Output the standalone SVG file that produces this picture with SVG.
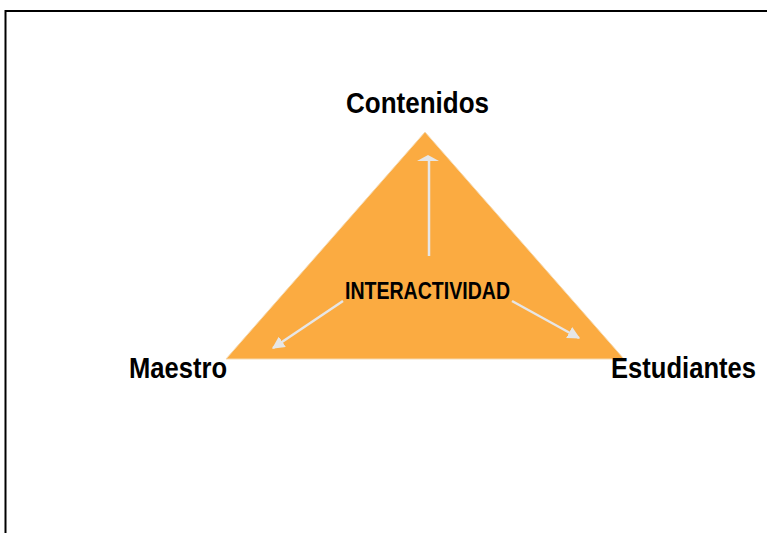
<svg xmlns="http://www.w3.org/2000/svg" width="767" height="533" viewBox="0 0 767 533">
<defs>
<style>
.lbl{font-family:"Liberation Sans Narrow","Liberation Sans",Arial,sans-serif;font-weight:bold;fill:#000}
.big{font-size:29px}
.conn{stroke:#e6e6e6;stroke-width:2.5;fill:none}
.head{fill:#e6e6e6}
</style>
<marker id="ah" viewBox="0 0 10 10" refX="9" refY="5" markerWidth="5" markerHeight="5" orient="auto" markerUnits="strokeWidth">
<path d="M0,0 L10,5 L0,10 z" fill="#e6e6e6"/>
</marker>
</defs>
<rect width="767" height="533" fill="#fff"/>
<path d="M5.5,533 V11 H767" fill="none" stroke="#000" stroke-width="2"/>
<g id="triangle">
<polygon points="425,132 226,359 624,359" fill="#fbab41" stroke="#f5d9b0" stroke-width="1"/>
</g>
<g id="interactividad">
<text class="lbl" x="345" y="299" font-size="23" textLength="165" lengthAdjust="spacingAndGlyphs">INTERACTIVIDAD</text>
</g>
<g id="contenidos">
<text class="lbl big" x="346" y="113" textLength="143" lengthAdjust="spacingAndGlyphs">Contenidos</text>
</g>
<g id="maestro">
<text class="lbl big" x="129" y="378" textLength="98" lengthAdjust="spacingAndGlyphs">Maestro</text>
</g>
<g id="estudiantes">
<text class="lbl big" x="611" y="378" textLength="145" lengthAdjust="spacingAndGlyphs">Estudiantes</text>
</g>
<g id="connectors">
<line class="conn" x1="429" y1="256" x2="429" y2="160" stroke-width="4"/>
<polygon class="head" points="428,155 417,161 439,161"/>
<line class="conn" x1="343" y1="301" x2="273" y2="348" marker-end="url(#ah)"/>
<line class="conn" x1="512" y1="301" x2="579" y2="338" marker-end="url(#ah)"/>
</g>
</svg>
